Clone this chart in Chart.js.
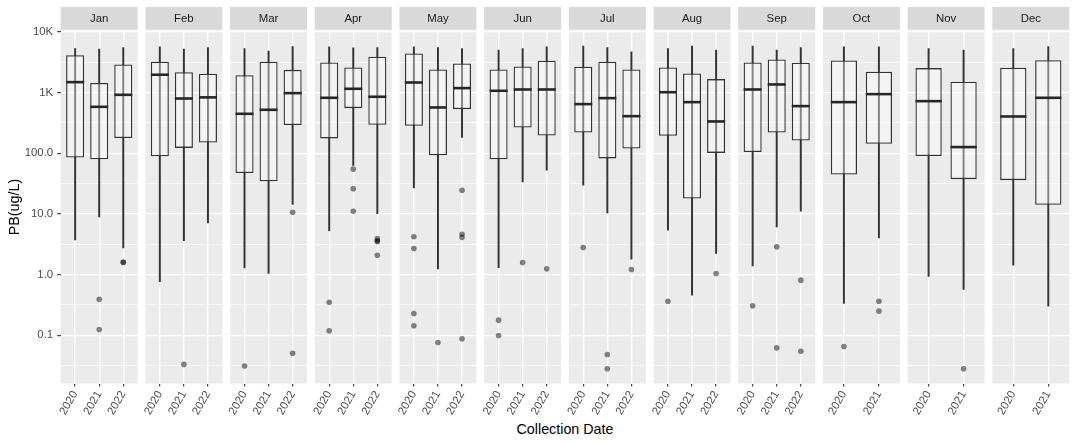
<!DOCTYPE html>
<html>
<head>
<meta charset="utf-8">
<script src="https://cdn.jsdelivr.net/npm/chart.js@4.4.1/dist/chart.umd.min.js"></script>
<style>
  body { margin: 0; background: #ffffff; width: 1077px; height: 444px; overflow: hidden; position: relative; font-family: "Liberation Sans", Arial, sans-serif; }
  #wrap { position: absolute; left: 0; top: 0; width: 1077px; height: 444px; }
  #xtitle { position: absolute; left: 60.7px; width: 1008.6px; top: 420.5px; line-height: 17px; text-align: center; font-size: 14.3px; color: #000; }
</style>
</head>
<body>
<div id="wrap"></div>
<div id="xtitle">Collection Date</div>
<script>
// Data (values in ug/L)
const months = ['Jan', 'Feb', 'Mar', 'Apr', 'May', 'Jun', 'Jul', 'Aug', 'Sep', 'Oct', 'Nov', 'Dec'];

const panelYears = [
    ['2020', '2021', '2022'], ['2020', '2021', '2022'], ['2020', '2021', '2022'],
    ['2020', '2021', '2022'], ['2020', '2021', '2022'], ['2020', '2021', '2022'],
    ['2020', '2021', '2022'], ['2020', '2021', '2022'], ['2020', '2021', '2022'],
    ['2020', '2021'], ['2020', '2021'], ['2020', '2021']
];

const whiskerHigh = [
    [5300, 5200, 5500], [5670, 5200, 5500], [5300, 4800, 5730],
    [5670, 5450, 5500], [5670, 5500, 5300], [4990, 5300, 5670],
    [5800, 5500, 4680], [5300, 5800, 4990], [5800, 4990, 5500],
    [5670, 5670], [5300, 4990], [5300, 5730]
];

const boxQ3 = [
    [4100, 1430, 2900], [3200, 2160, 2030], [1930, 3200, 2360],
    [3130, 2580, 3870], [4400, 2390, 3000], [2390, 2690, 3330],
    [2650, 3200, 2390], [2580, 2060, 1660], [3130, 3500, 3080],
    [3370, 2190], [2520, 1500], [2550, 3410]
];

const boxMedian = [
    [1480, 580, 915], [1960, 795, 830], [445, 518, 975],
    [817, 1150, 850], [1460, 566, 1180], [1065, 1120, 1120],
    [643, 807, 407], [1010, 693, 333], [1120, 1355, 596],
    [693, 940], [719, 126], [402, 817]
];

const boxQ1 = [
    [85, 79, 177], [89, 122, 150], [47, 34.5, 290],
    [175, 552, 293], [282, 92, 531], [79, 265, 195],
    [219, 82, 119], [193, 17.9, 101], [104, 219, 162],
    [44.5, 143], [90, 37.3], [35.9, 14.1]
];

const whiskerLow = [
    [3.7, 8.9, 2.75], [0.76, 3.6, 7.1], [1.29, 1.04, 14.3],
    [5.3, 63, 10.1], [26.8, 1.24, 181], [1.3, 33.6, 52.5],
    [29.7, 10.4, 1.79], [5.4, 0.456, 2.22], [1.39, 6.1, 11.1],
    [0.333, 4.0], [0.93, 0.567], [1.43, 0.30]
];

const outliers = [
    [[], [0.39, 0.124], [1.6, 1.58]],
    [[], [0.033], []],
    [[0.031], [], [10.6, 0.0505]],
    [[0.35, 0.118], [54.5, 26, 11], [3.9, 3.6, 3.5, 2.08]],
    [[4.18, 2.69, 0.228, 0.143], [0.0757], [24.5, 4.6, 4.1, 0.087]],
    [[0.177, 0.099], [1.58], [1.24]],
    [[2.79], [0.048, 0.028], [1.21]],
    [[0.363], [], [1.04]],
    [[0.305], [2.86, 0.0618], [0.807, 0.0545]],
    [[0.065], [0.363, 0.249]],
    [[], [0.028]],
    [[], []]
];

const yTickValues = [0.1, 1, 10, 100, 1000, 10000];
const yTickLabels = ['0.1', '1.0', '10.0', '100.0', '1K', '10K'];
const yMinorValues = [0.03162, 0.3162, 3.162, 31.62, 316.2, 3162];
const yMin = 0.016;
const yMax = 10500;

// Layout
const PANEL_X0 = 60.7;
const PANEL_STEP = 84.69;
const PANEL_W = 77;
const STRIP_TOP = 7;
const PANEL_BOTTOM = 383.5;
const CANVAS_H = 420;

Chart.defaults.font.family = '"Liberation Sans", Arial, sans-serif';
Chart.defaults.color = '#4D4D4D';

//Panel background, strip and median lines
const panelPlugin = {
    id: 'panelPlugin',
    beforeDraw(chart) {
        const { ctx, chartArea: a } = chart;
        ctx.save();
        ctx.fillStyle = '#D9D9D9';
        ctx.fillRect(a.left, STRIP_TOP, a.right - a.left, a.top - STRIP_TOP - 0.8);
        ctx.fillStyle = '#EBEBEB';
        ctx.fillRect(a.left, a.top, a.right - a.left, a.bottom - a.top);
        ctx.restore();
    },
    afterDatasetsDraw(chart) {
        const meds = chart.options.plugins.panelPlugin.medians;
        const meta = chart.getDatasetMeta(1);
        const yScale = chart.scales.y;
        const ctx = chart.ctx;
        ctx.save();
        ctx.strokeStyle = '#262626';
        ctx.lineWidth = 2.6;
        meta.data.forEach((bar, k) => {
            const y = yScale.getPixelForValue(meds[k]);
            ctx.beginPath();
            ctx.moveTo(bar.x - bar.width / 2, y);
            ctx.lineTo(bar.x + bar.width / 2, y);
            ctx.stroke();
        });
        ctx.restore();
    }
};

const wrap = document.getElementById('wrap');

months.forEach((month, i) => {
    const yrs = panelYears[i];
    const first = i === 0;
    const panelLeft = PANEL_X0 + i * PANEL_STEP;
    const canvasLeft = first ? 0 : Math.floor(panelLeft) - 22;
    const padLeft = first ? 0 : panelLeft - canvasLeft;
    const axisW = first ? PANEL_X0 : 0;
    const canvasWidth = Math.ceil(padLeft + axisW + PANEL_W + 4);
    const padRight = canvasWidth - (padLeft + axisW + PANEL_W);

    const canvas = document.createElement('canvas');
    canvas.width = canvasWidth;
    canvas.height = CANVAS_H;
    canvas.style.position = 'absolute';
    canvas.style.left = canvasLeft + 'px';
    canvas.style.top = '0px';
    canvas.style.width = canvasWidth + 'px';
    canvas.style.height = CANVAS_H + 'px';
    wrap.appendChild(canvas);

    const xs = yrs.map((_, k) => k + 1);
    const outlierPoints = [];
    outliers[i].forEach((vals, k) => vals.forEach(v => outlierPoints.push({ x: k + 1, y: v })));

    new Chart(canvas, {
        type: 'bar',
        data: {
            datasets: [
                {
                    type: 'scatter',
                    data: outlierPoints,
                    backgroundColor: 'rgba(0,0,0,0.48)',
                    pointBackgroundColor: 'rgba(0,0,0,0.48)',
                    pointBorderWidth: 0,
                    pointRadius: 2.8,
                    order: 1
                },
                {
                    type: 'bar',
                    data: xs.map((x, k) => ({ x: x, y: [boxQ1[i][k], boxQ3[i][k]] })),
                    backgroundColor: 'rgba(255,255,255,0.4)',
                    borderColor: '#333333',
                    borderWidth: 1.3,
                    borderSkipped: false,
                    grouped: false,
                    categoryPercentage: 1,
                    barPercentage: 0.75,
                    order: 2
                },
                {
                    type: 'bar',
                    data: xs.map((x, k) => ({ x: x, y: [whiskerLow[i][k], whiskerHigh[i][k]] })),
                    backgroundColor: '#333333',
                    borderWidth: 0,
                    grouped: false,
                    categoryPercentage: 1,
                    barPercentage: 1,
                    maxBarThickness: 1.3,
                    order: 3
                }
            ]
        },
        options: {
            responsive: false,
            animation: false,
            events: [],
            layout: { padding: { left: padLeft, right: padRight, top: STRIP_TOP, bottom: 0 } },
            plugins: {
                legend: { display: false },
                tooltip: { enabled: false },
                title: {
                    display: true,
                    text: month,
                    fullSize: false,
                    color: '#1A1A1A',
                    font: { size: 11.4, weight: 'normal' },
                    padding: { top: 5, bottom: 4.82 }
                },
                panelPlugin: { medians: boxMedian[i] }
            },
            scales: {
                x: {
                    type: 'linear',
                    bounds: 'data',
                    offset: false,
                    min: 0.4,
                    max: yrs.length + 0.6,
                    afterBuildTicks: (scale) => { scale.ticks = xs.map(v => ({ value: v })); },
                    afterFit: (scale) => {
                        scale.height = CANVAS_H - PANEL_BOTTOM;
                        scale.paddingLeft = 0;
                        scale.paddingRight = 0;
                    },
                    ticks: {
                        autoSkip: false,
                        minRotation: 60,
                        maxRotation: 60,
                        padding: 2,
                        color: '#4D4D4D',
                        font: { size: 11.4 },
                        callback: (value, index) => yrs[index]
                    },
                    grid: { offset: false, color: '#FFFFFF', lineWidth: 1.3, tickColor: '#333333', tickLength: 3, tickWidth: 1.1 },
                    border: { display: false }
                },
                y: {
                    type: 'logarithmic',
                    bounds: 'data',
                    min: yMin,
                    max: yMax,
                    afterBuildTicks: (scale) => {
                        scale.ticks = yMinorValues.concat(yTickValues)
                            .sort((a, b) => a - b)
                            .map(v => ({ value: v, major: false }));
                    },
                    afterFit: (scale) => {
                        scale.width = axisW;
                        scale.paddingTop = 0;
                        scale.paddingBottom = 0;
                    },
                    ticks: {
                        display: first,
                        padding: 4,
                        color: '#4D4D4D',
                        font: { size: 11.4 },
                        callback: (value) => {
                            const k = yTickValues.indexOf(value);
                            return k >= 0 ? yTickLabels[k] : '';
                        }
                    },
                    grid: {
                        color: '#FFFFFF',
                        lineWidth: (c) => (c.tick && yTickValues.includes(c.tick.value)) ? 1.3 : 0.65,
                        drawTicks: first,
                        tickLength: 3.5,
                        tickWidth: 1.1,
                        tickColor: (c) => (c.tick && yTickValues.includes(c.tick.value)) ? '#333333' : 'rgba(0,0,0,0)'
                    },
                    border: { display: false },
                    title: {
                        display: first,
                        text: 'PB(ug/L)',
                        color: '#000000',
                        font: { size: 14.3 },
                        padding: { top: 6.4, bottom: 0 }
                    }
                }
            }
        },
        plugins: [panelPlugin]
    });
});
</script>
</body>
</html>
